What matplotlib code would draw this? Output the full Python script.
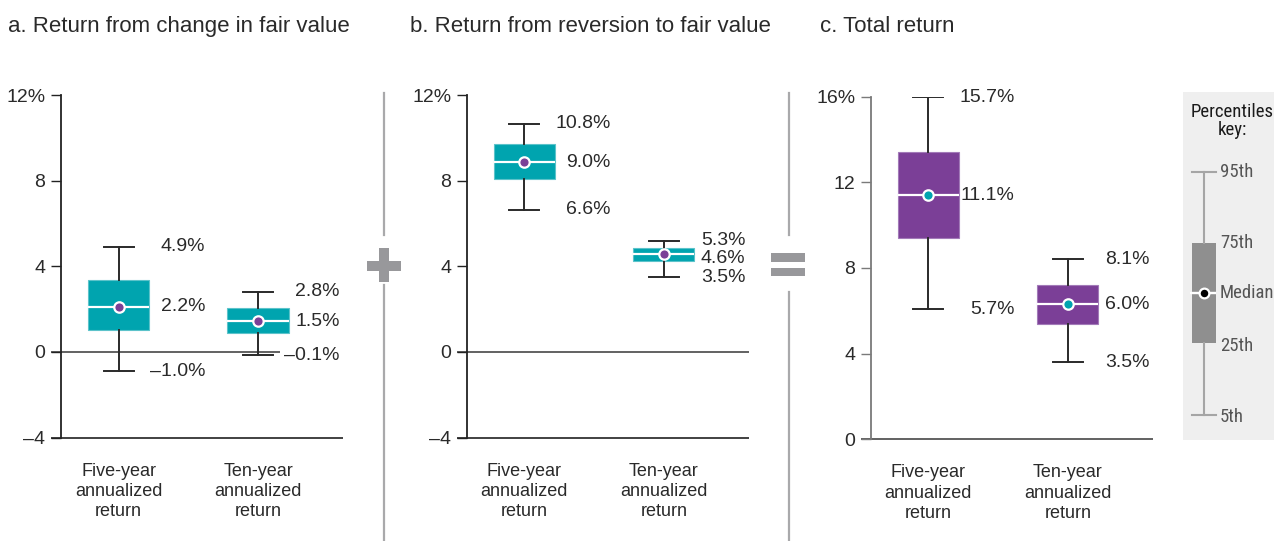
import matplotlib
matplotlib.use("Agg")
import matplotlib.pyplot as plt
from matplotlib import font_manager
from matplotlib.patches import Rectangle
from matplotlib.lines import Line2D

# ---------------- data ----------------
categories = ["Five-year\nannualized\nreturn", "Ten-year\nannualized\nreturn"]

# percentiles: 5th, 25th, 50th, 75th, 95th
a_five = [-0.9, 1.0, 2.1, 3.35, 4.9]
a_ten = [-0.15, 0.87, 1.44, 2.04, 2.81]
b_five = [6.63, 8.08, 8.86, 9.70, 10.66]
b_ten = [3.49, 4.25, 4.56, 4.84, 5.19]
c_five = [6.07, 9.40, 11.40, 13.40, 15.97]
c_ten = [3.61, 5.37, 6.31, 7.21, 8.42]

# value labels (95th, median, 5th)
a_five_labels = ["4.9%", "2.2%", "\u20131.0%"]
a_ten_labels = ["2.8%", "1.5%", "\u20130.1%"]
b_five_labels = ["10.8%", "9.0%", "6.6%"]
b_ten_labels = ["5.3%", "4.6%", "3.5%"]
c_five_labels = ["15.7%", "11.1%", "5.7%"]
c_ten_labels = ["8.1%", "6.0%", "3.5%"]

titles = ["a. Return from change in fair value",
          "b. Return from reversion to fair value",
          "c. Total return"]
ab_ticks = [-4, 0, 4, 8, 12]
ab_ticklabels = ["\u20134", "0", "4", "8", "12%"]
c_ticks = [0, 4, 8, 12, 16]
c_ticklabels = ["0", "4", "8", "12", "16%"]

key_labels = ["5th", "25th", "Median", "75th", "95th"]

# ---------------- style ----------------
TEAL = "#00A4AF"
TEAL_EDGE = "#5cc3ca"
PURPLE = "#7B3F97"
PURPLE_EDGE = "#a27ab8"
TXT = "#2a2a2a"
SEP = "#a9a9ab"
SYM = "#98989b"

names = {f.name for f in font_manager.fontManager.ttflist}
BASE = "Liberation Sans" if "Liberation Sans" in names else "DejaVu Sans"
plt.rcParams["font.family"] = [BASE, "DejaVu Sans"]

# condensed font for the key if available
KEY_FONT = dict(family=[BASE, "DejaVu Sans"], fontsize=11.6)
for cand in ["Liberation Sans Narrow", "Roboto Condensed", "Open Sans Condensed"]:
    if cand in names:
        KEY_FONT = dict(family=[cand, "DejaVu Sans"], fontsize=13.5)
        break
else:
    cond = [f for f in font_manager.fontManager.ttflist
            if f.name == "DejaVu Sans" and str(f.stretch) in ("condensed", "semi-condensed", "75", "87")
            and f.weight in (400, "normal") and f.style == "normal"]
    if cond:
        KEY_FONT = dict(family=["DejaVu Sans"], fontstretch="condensed", fontsize=12.5)

W, H = 1274, 541
fig = plt.figure(figsize=(W / 100, H / 100), dpi=100)
fig.patch.set_facecolor("white")


def fx(px):
    return px / W


def fy(py):
    return 1 - py / H


def add_ax(left, right, top, bottom):
    return fig.add_axes([fx(left), fy(bottom), fx(right) - fx(left), fy(top) - fy(bottom)])


PX_PER_X = 139.5
XLIM = (-57.6 / PX_PER_X, (282 - 57.6) / PX_PER_X)
TICK_EXT = 10 / PX_PER_X

panels = [
    dict(ax=add_ax(61, 343, 95, 437.5), data=[a_five, a_ten],
         labels=[a_five_labels, a_ten_labels], color=TEAL, edge=TEAL_EDGE, dot=PURPLE,
         ylim=(-4, 12), ticks=ab_ticks, ticklabels=ab_ticklabels, zero_end=1.16,
         spine="#222222", base="#333333", title=titles[0], tx=8),
    dict(ax=add_ax(466.7, 748.7, 95, 437.5), data=[b_five, b_ten],
         labels=[b_five_labels, b_ten_labels], color=TEAL, edge=TEAL_EDGE, dot=PURPLE,
         ylim=(-4, 12), ticks=ab_ticks, ticklabels=ab_ticklabels, zero_end=XLIM[1],
         spine="#222222", base="#333333", title=titles[1], tx=410),
    dict(ax=add_ax(870.7, 1152.7, 96.7, 439.3), data=[c_five, c_ten],
         labels=[c_five_labels, c_ten_labels], color=PURPLE, edge=PURPLE_EDGE, dot=TEAL,
         ylim=(0, 16), ticks=c_ticks, ticklabels=c_ticklabels, zero_end=None,
         spine="#7a7a7a", base="#555555", title=titles[2], tx=820),
]

label_dx = [0.62, 0.585]

for pi, p in enumerate(panels):
    ax = p["ax"]
    stats = []
    for d in p["data"]:
        stats.append(dict(whislo=d[0], q1=d[1], med=d[2], q3=d[3], whishi=d[4]))
    ax.bxp(stats, positions=[0, 1], widths=0.44, capwidths=0.215,
           patch_artist=True, showfliers=False, manage_ticks=False,
           boxprops=dict(facecolor=p["color"], edgecolor=p["edge"], linewidth=0.8),
           whiskerprops=dict(color="#2a2a2a", linewidth=1.4),
           capprops=dict(color="#2a2a2a", linewidth=1.4),
           medianprops=dict(color="white", linewidth=1.6))
    meds = [d[2] for d in p["data"]]
    ax.plot([0, 1], meds, linestyle="none", marker="o", ms=7.5,
            mfc=p["dot"], mec="white", mew=1.6, zorder=6)

    ax.set_xlim(*XLIM)
    ax.set_ylim(*p["ylim"])
    for s in ["top", "right", "bottom"]:
        ax.spines[s].set_visible(False)
    ax.spines["left"].set_color(p["spine"])
    ax.spines["left"].set_linewidth(1.3)
    ax.set_yticks(p["ticks"], p["ticklabels"])
    ax.tick_params(axis="y", length=7.2, width=1.0, color=p["spine"], pad=4.0,
                   labelsize=14, labelcolor=TXT)
    ax.set_xticks([0, 1], categories)
    ax.tick_params(axis="x", length=0, pad=18, labelsize=13, labelcolor=TXT)
    for t in ax.get_xticklabels():
        t.set_linespacing(1.25)

    # baseline at the bottom of the axis and the zero line
    ax.hlines(p["ylim"][0], XLIM[0] - TICK_EXT, XLIM[1], color=p["base"],
              linewidth=1.3, clip_on=False, zorder=1)
    if p["zero_end"] is not None:
        ax.hlines(0, XLIM[0] - TICK_EXT, p["zero_end"], color="#555555",
                  linewidth=1.3, clip_on=False, zorder=1)

    # value labels
    for ci, (d, labs) in enumerate(zip(p["data"], p["labels"])):
        for val, lab, k in zip([d[4], d[2], d[0]], labs, range(3)):
            nudge = -3.0 if (pi == 1 and ci == 1 and k == 1) else 0.0
            ax.annotate(lab, (ci + label_dx[ci], val), xytext=(0, nudge),
                        textcoords="offset points", ha="right", va="center",
                        fontsize=14, color=TXT, annotation_clip=False)

    fig.text(fx(p["tx"]), fy(26.5), p["title"], fontsize=16, color=TXT,
             ha="left", va="center")

# ---------------- separators with + and = ----------------
for x, top_end, bot_start in [(383.5, 235, 285), (788.5, 234.5, 291.5)]:
    fig.add_artist(Line2D([fx(x), fx(x)], [fy(93), fy(top_end)], color=SEP, lw=1.6))
    fig.add_artist(Line2D([fx(x), fx(x)], [fy(bot_start), fy(541)], color=SEP, lw=1.6))

# plus sign
fig.add_artist(Rectangle((fx(366.7), fy(271)), fx(401) - fx(366.7), fy(261) - fy(271),
                         transform=fig.transFigure, color=SYM, lw=0))
fig.add_artist(Rectangle((fx(379), fy(281.7)), fx(389) - fx(379), fy(247.7) - fy(281.7),
                         transform=fig.transFigure, color=SYM, lw=0))
# equals sign
for y0, y1 in [(253.3, 261.7), (268.3, 276)]:
    fig.add_artist(Rectangle((fx(770.7), fy(y1)), fx(805) - fx(770.7), fy(y0) - fy(y1),
                             transform=fig.transFigure, color=SYM, lw=0))

# ---------------- percentiles key ----------------
kax = add_ax(1182.5, 1274, 92, 440)
kax.set_facecolor("#efefef")
for s in kax.spines.values():
    s.set_visible(False)
kax.set_xticks([])
kax.set_yticks([])
kax.set_xlim(0, 91.5)
kax.set_ylim(-2.5, 32.3)
key_vals = [0, 7.17, 12.17, 17.17, 24.33]  # illustrative spacing of the key graphic
kstats = [dict(whislo=key_vals[0], q1=key_vals[1], med=key_vals[2],
               q3=key_vals[3], whishi=key_vals[4])]
kax.bxp(kstats, positions=[21.5], widths=24, capwidths=23.5, patch_artist=True,
        showfliers=False, manage_ticks=False,
        boxprops=dict(facecolor="#8f8f8f", edgecolor="#8f8f8f", linewidth=0),
        whiskerprops=dict(color="#a5a5a5", linewidth=1.5),
        capprops=dict(color="#a5a5a5", linewidth=1.5),
        medianprops=dict(color="white", linewidth=1.6))
kax.hlines(key_vals[2], 7.5, 33.5, color="white", linewidth=1.6, zorder=5)
kax.plot([21.5], [key_vals[2]], linestyle="none", marker="o", ms=7, mfc="black",
         mec="white", mew=1.6, zorder=6)
for v, lab in zip(key_vals, key_labels):
    kax.text(37.5, v - (0.25 if lab in ("5th", "25th") else 0), lab, ha="left",
             va="center", color="#555555", **KEY_FONT)
kax.text(49.5, 29.4, "Percentiles\nkey:", ha="center", va="center",
         color="#1a1a1a", linespacing=1.05, **KEY_FONT)

fig.savefig("out.png", dpi=100, facecolor="white")
